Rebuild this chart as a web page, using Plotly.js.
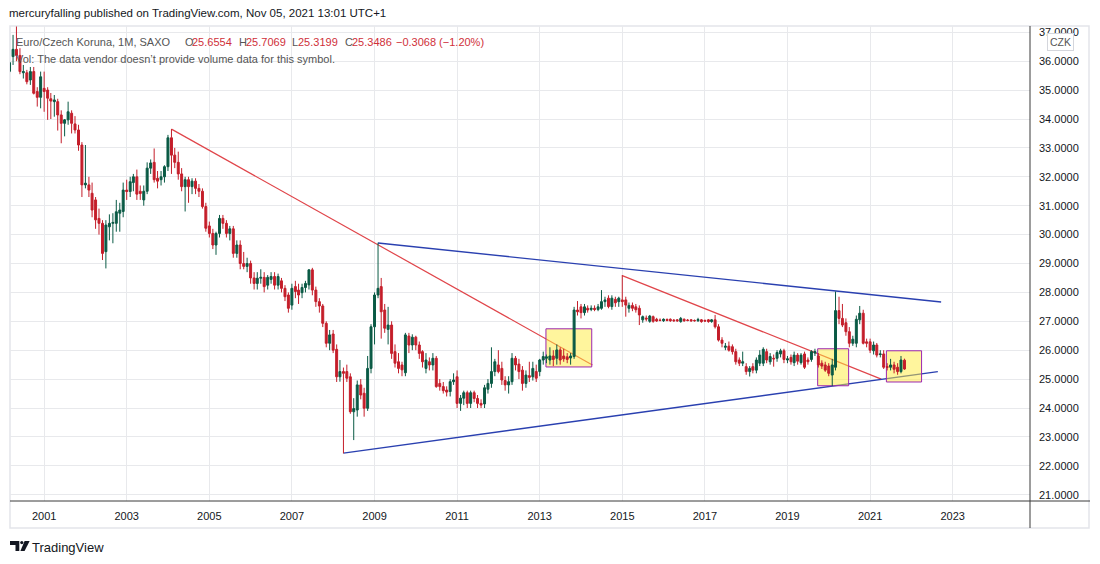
<!DOCTYPE html>
<html><head><meta charset="utf-8">
<script src="https://cdn.plot.ly/plotly-3.0.1.min.js"></script>
<style>html,body{margin:0;padding:0;background:#fff}#chart{width:1100px;height:564px}</style>
</head><body><div id="chart"></div>
<script>
// Monthly EUR/CZK (SAXO), first bar = March 2000
const firstYear = 2000, firstMonth = 3;
const openV = [
 35.65,36.16,36.41,36.2,35.6,35.6,35.35,35.64,34.95,34.75,
 35.06,35.0,34.7,34.6,34.6,34.14,33.85,33.97,34.2,33.83,33.62,33.1,
 31.72,31.72,31.43,31.2,30.56,30.39,29.41,30.27,30.39,30.39,30.74,30.8,
 31.54,31.49,31.8,32.0,31.5,31.2,31.5,32.3,32.5,31.95,31.9,32.0,
 32.35,33.35,32.75,32.5,32.1,31.66,31.9,31.66,31.85,31.6,31.5,30.97,
 30.3,30.04,29.64,30.04,30.56,30.39,30.04,30.2,29.35,29.64,29.0,28.9,
 29.0,28.5,28.31,28.49,28.52,28.25,28.45,28.55,28.25,28.4,28.14,27.91,
 27.56,28.2,28.08,27.99,28.17,28.26,28.78,28.08,27.68,27.53,26.93,26.24,
 26.56,26.03,25.08,25.26,25.26,25.08,23.87,23.93,24.8,24.51,23.99,25.37,
 26.81,27.91,28.2,27.39,26.72,26.87,25.95,25.6,25.49,25.22,26.49,26.18,
 26.45,26.18,25.95,25.37,25.6,25.49,25.72,24.85,24.74,24.62,24.57,24.91,
 25.08,24.16,24.34,24.53,24.16,24.53,24.33,24.16,24.14,24.65,24.85,25.26,
 25.49,25.37,24.95,24.8,24.91,25.72,25.52,25.31,24.85,25.12,25.08,25.26,
 25.26,25.66,25.72,25.66,25.8,25.72,26.01,25.8,25.77,25.73,25.78,27.39,
 27.5,27.3,27.45,27.41,27.45,27.41,27.45,27.68,27.8,27.51,27.76,27.68,
 27.74,27.74,27.45,27.55,27.5,27.45,27.05,27.11,27.0,27.16,27.07,27.04,
 27.02,27.06,27.07,27.04,27.05,26.99,27.07,27.04,27.05,27.03,27.02,27.05,
 27.03,27.05,26.99,27.05,26.81,26.35,26.1,26.14,26.12,25.95,25.66,25.55,
 25.43,25.26,25.43,25.31,25.55,25.55,25.95,25.6,25.72,25.72,25.87,25.98,
 25.66,25.75,25.57,25.83,25.57,25.87,25.66,25.68,25.9,25.8,25.55,25.49,
 25.45,25.14,25.41,27.37,27.1,26.95,26.64,26.24,26.24,27.05,27.28,26.29,
 26.29,25.98,26.18,25.85,25.87,25.43,25.41,25.49,25.41,25.26,25.6554
];
const highV = [
 36.0,36.91,37.2,36.45,35.87,35.7,35.8,35.8,35.1,35.64,
 35.64,35.1,34.9,34.83,34.7,34.3,34.0,34.6,34.3,34.1,33.8,33.2,
 33.1,32.0,31.8,31.3,30.9,30.5,30.5,30.7,30.74,31.2,31.1,31.8,
 31.9,32.0,32.1,32.25,31.7,31.7,32.5,32.6,32.98,32.2,32.2,32.4,
 33.45,33.65,33.0,32.87,32.3,32.0,32.0,31.95,31.95,31.75,31.6,31.1,
 30.45,30.2,30.1,30.68,30.68,30.5,30.3,30.3,29.8,29.8,29.4,29.2,
 29.1,28.7,28.7,28.8,28.7,28.6,28.7,28.7,28.65,28.5,28.25,28.0,
 28.3,28.4,28.3,28.3,28.4,28.8,28.85,28.2,27.8,27.6,27.0,26.7,
 26.7,26.2,25.66,25.4,25.5,25.2,24.34,24.95,25.0,24.7,25.8,26.9,
 28.0,29.72,28.5,27.6,27.5,27.0,26.2,25.9,25.6,26.6,26.6,26.55,
 26.5,26.3,26.0,25.9,25.75,25.9,25.8,25.0,24.9,24.75,25.0,25.2,
 25.3,24.45,24.6,24.6,24.6,24.6,24.45,24.3,24.8,25.0,26.1,25.7,
 26.0,25.6,25.1,25.1,25.9,25.8,25.7,25.45,25.3,25.6,25.6,25.5,
 25.7,25.95,25.85,26.1,26.0,26.2,26.1,26.05,25.9,25.9,27.5,27.7,
 27.6,27.6,27.55,27.55,27.55,27.6,28.08,27.85,27.9,27.9,27.85,27.85,
 28.6,27.85,27.65,27.65,27.6,27.55,27.2,27.2,27.22,27.2,27.12,27.1,
 27.1,27.1,27.1,27.08,27.08,27.15,27.1,27.08,27.08,27.06,27.12,27.08,
 27.06,27.08,27.08,27.22,26.9,26.45,26.25,26.3,26.2,26.05,25.75,25.95,
 25.55,25.45,25.55,25.75,26.0,26.1,26.05,25.9,25.85,26.0,26.05,26.05,
 25.8,25.85,25.95,25.9,25.9,25.95,25.75,26.0,26.05,25.9,25.65,25.6,
 25.55,25.7,28.03,27.85,27.6,27.1,26.8,26.5,27.2,27.53,27.4,26.4,
 26.4,26.3,26.25,26.0,26.0,25.55,25.7,25.6,25.55,25.8,25.7069
];
const lowV = [
 35.6,35.87,36.0,35.55,35.4,35.2,35.18,34.85,34.43,34.37,
 34.25,33.97,34.0,34.08,33.6,33.16,33.4,33.8,33.5,33.5,32.9,31.3,
 31.6,31.3,30.6,30.2,30.0,29.12,28.83,29.8,29.7,30.1,30.1,30.6,
 31.2,31.3,31.5,31.2,31.2,31.0,31.4,32.1,31.8,31.6,31.7,31.8,
 32.2,32.1,32.3,31.9,31.5,30.8,31.1,31.4,31.4,31.3,30.9,30.1,
 29.9,29.5,29.3,29.9,30.2,29.9,29.8,29.2,29.2,28.8,28.8,28.7,
 28.3,28.1,28.1,28.3,28.0,28.1,28.3,28.1,28.1,28.0,27.7,27.3,
 27.4,27.8,27.6,27.8,28.0,28.1,27.9,27.5,27.3,26.8,26.1,26.0,
 25.9,24.9,24.91,22.43,24.9,23.8,22.89,23.7,24.3,23.7,23.9,25.2,
 26.2,27.8,26.4,26.6,26.2,25.7,25.4,25.2,25.1,25.1,25.9,26.0,
 26.0,25.7,25.4,25.2,25.3,25.3,24.7,24.6,24.5,24.4,24.4,24.8,
 24.0,23.9,24.1,24.0,24.0,24.2,24.0,24.0,24.0,24.5,24.7,25.1,
 25.2,24.8,24.6,24.5,24.8,25.3,25.0,24.6,24.7,24.9,24.95,24.9,
 25.1,25.5,25.55,25.5,25.45,25.5,25.5,25.6,25.55,25.5,25.7,27.2,
 27.1,27.2,27.3,27.35,27.35,27.35,27.4,27.5,27.45,27.4,27.5,27.5,
 27.5,27.16,27.3,27.35,27.3,26.87,26.95,27.0,26.95,26.95,26.98,27.0,
 26.98,27.0,26.98,26.98,26.98,26.95,26.98,27.0,26.98,26.99,26.98,26.95,
 26.98,26.95,26.95,26.75,26.3,26.1,26.0,25.95,25.85,25.5,25.45,25.45,
 25.15,25.09,25.2,25.2,25.45,25.45,25.55,25.5,25.43,25.6,25.75,25.55,
 25.55,25.5,25.45,25.5,25.5,25.35,25.5,25.6,25.8,25.4,25.35,25.25,
 25.1,24.76,25.3,26.9,26.8,26.5,26.1,26.15,26.1,26.9,26.2,26.1,
 25.9,25.85,25.75,25.75,25.35,25.3,25.3,25.2,25.15,25.2,25.3199
];
const closeV = [
 35.95,36.41,36.2,35.64,35.64,35.29,35.64,34.89,34.75,35.46,
 34.95,34.72,34.62,34.66,34.14,33.85,33.97,34.25,33.85,33.62,33.1,31.72,
 31.78,31.54,30.85,30.51,30.39,29.35,30.33,30.39,30.42,30.79,30.85,31.54,
 31.49,31.83,32.0,31.4,31.42,31.5,32.3,32.48,31.9,31.85,32.0,32.35,
 33.35,32.75,32.5,32.1,31.66,31.9,31.66,31.85,31.6,31.5,30.97,30.22,
 30.04,29.64,30.04,30.56,30.39,30.04,30.2,29.35,29.64,29.0,28.9,29.0,
 28.5,28.31,28.49,28.52,28.2,28.52,28.55,28.25,28.55,28.14,27.85,27.45,
 28.14,28.03,27.91,28.17,28.31,28.78,28.08,27.68,27.53,26.93,26.24,26.53,
 26.0,25.08,25.26,25.2,25.03,23.87,23.98,24.8,24.45,23.99,25.37,26.81,
 27.91,28.14,27.33,26.76,26.87,25.89,25.55,25.37,25.32,26.53,26.18,26.45,
 26.18,25.89,25.6,25.66,25.49,25.72,24.74,24.74,24.6,24.55,24.91,24.97,
 24.16,24.34,24.53,24.16,24.53,24.33,24.16,24.1,24.7,24.85,25.26,25.6,
 25.26,24.97,24.8,24.91,25.72,25.49,25.26,24.85,25.14,25.06,25.37,25.03,
 25.66,25.78,25.77,25.8,25.68,26.01,25.66,25.7,25.68,25.8,27.39,27.33,
 27.3,27.5,27.39,27.45,27.41,27.5,27.68,27.74,27.51,27.8,27.64,27.8,
 27.68,27.56,27.55,27.45,27.4,27.22,27.16,27.08,27.18,27.0,27.01,27.03,
 27.07,27.03,27.02,27.02,27.02,27.1,27.02,27.03,27.02,27.02,27.06,26.99,
 27.01,26.99,27.05,26.81,26.35,26.24,26.14,26.0,25.95,25.6,25.55,25.6,
 25.26,25.37,25.31,25.66,25.83,26.03,25.66,25.78,25.7,25.92,25.98,25.68,
 25.7,25.6,25.83,25.62,25.83,25.41,25.6,25.95,25.95,25.49,25.45,25.31,
 25.2,25.49,27.37,27.1,26.87,26.64,26.24,26.38,27.07,27.28,26.24,26.24,
 26.0,26.18,25.83,25.87,25.41,25.41,25.49,25.34,25.26,25.66,25.3486
];

// Trend lines: [start, end]
const redLine1Dates = ['2004-02-01','2014-04-12'];   const redLine1Vals = [33.65, 25.49];
const redLine2Dates = ['2015-01-01','2021-04-10'];   const redLine2Vals = [28.58, 25.0];
const blueTopDates  = ['2009-02-01','2022-09-21'];   const blueTopVals  = [29.71, 27.67];
const blueBotDates  = ['2008-04-01','2022-08-23'];   const blueBotVals  = [22.44, 25.26];

// Highlight boxes
const boxX0 = ['2013-02-25','2019-09-25','2021-05-25'];
const boxX1 = ['2014-04-06','2020-06-25','2022-04-01'];
const boxY0 = [25.42, 24.77, 24.90];
const boxY1 = [26.74, 26.05, 25.98];

// Axis ticks
const yearTicks = ['2001','2003','2005','2007','2009','2011','2013','2015','2017','2019','2021','2023'];

// Legend values
const legendName = 'Euro/Czech Koruna, 1M, SAXO';
const ohlcLabels = ['O','H','L','C'];
const ohlcTexts = ['25.6554','25.7069','25.3199','25.3486'];
const changeText = '\u22120.3068 (\u22121.20%)';

const dates = closeV.map((_, i) => {
  const m = (firstMonth - 1) + i;
  const y = firstYear + Math.floor(m / 12);
  const mo = (m % 12) + 1;
  return y + '-' + String(mo).padStart(2, '0') + '-01';
});

const GREEN = '#0a5a45', RED = '#c41e2a';
const FONT = 'Liberation Sans, Arial, sans-serif';

const PX = x => (x - 10) / 1020;
const PY = y => (501 - y) / 475;
const pathPx = pts => 'M' + pts.map(p => PX(p[0]).toFixed(5) + ',' + PY(p[1]).toFixed(5)).join('L') + 'Z';

const traces = [
  {
    type: 'candlestick', x: dates, open: openV, high: highV, low: lowV, close: closeV,
    increasing: {line: {color: GREEN, width: 1}, fillcolor: GREEN},
    decreasing: {line: {color: RED, width: 1}, fillcolor: RED},
    whiskerwidth: 0, hoverinfo: 'skip'
  }
];

const shapes = [];
const trend = (d, v, color, w) => ({type:'line', xref:'x', yref:'y', x0: d[0], x1: d[1], y0: v[0], y1: v[1],
  line:{color: color, width: w}, layer:'between'});
shapes.push(trend(redLine1Dates, redLine1Vals, '#e0454a', 1.2));
shapes.push(trend(redLine2Dates, redLine2Vals, '#e0454a', 1.2));
shapes.push(trend(blueTopDates, blueTopVals, '#2a40b0', 1.4));
shapes.push(trend(blueBotDates, blueBotVals, '#2a40b0', 1.4));
for (let i = 0; i < boxX0.length; i++) {
  shapes.push({type:'rect', xref:'x', yref:'y', x0: boxX0[i], x1: boxX1[i], y0: boxY0[i], y1: boxY1[i],
    fillcolor:'rgba(255,235,59,0.5)', line:{color:'#9c27b0', width:1}, layer:'between'});
}
// panel frame
shapes.push({type:'rect', xref:'paper', yref:'paper', x0: PX(10), x1: PX(1089), y0: PY(528), y1: PY(26),
  line:{color:'#e3e5ea', width:1.5}, fillcolor:'rgba(0,0,0,0)', layer:'below'});
// axis lines
shapes.push({type:'line', xref:'paper', yref:'paper', x0: PX(10), x1: PX(1090), y0: PY(501), y1: PY(501),
  line:{color:'#3a3a3a', width:1}, layer:'above'});
shapes.push({type:'line', xref:'paper', yref:'paper', x0: PX(1030), x1: PX(1030), y0: PY(26), y1: PY(528),
  line:{color:'#3a3a3a', width:1}, layer:'above'});
// TradingView logo
shapes.push({type:'path', xref:'paper', yref:'paper', path: pathPx([[10,541],[19.3,541],[19.3,551],[15.5,551],[15.5,545],[10,545]]),
  fillcolor:'#131722', line:{width:0}});
shapes.push({type:'circle', xref:'paper', yref:'paper', x0: PX(20.2), x1: PX(23.4), y0: PY(544.2), y1: PY(541),
  fillcolor:'#131722', line:{width:0}});
shapes.push({type:'path', xref:'paper', yref:'paper', path: pathPx([[24.6,541],[29.6,541],[24.6,551],[20.4,551]]),
  fillcolor:'#131722', line:{width:0}});

const ann = (x, y, text, size, color, extra) => Object.assign({
  xref:'paper', yref:'paper', x: PX(x), y: PY(y), xanchor:'left', yanchor:'middle',
  text: text, showarrow:false, font:{family: FONT, size: size, color: color}, borderpad: 0
}, extra || {});

const ohlcLabelX = [185, 239, 292, 345];
const ohlcValX = [192, 246, 298, 352];
const annotations = [
  ann(8, 13, 'mercuryfalling published on TradingView.com, Nov 05, 2021 13:01 UTC+1', 11.5, '#131722'),
  ann(15, 42, legendName, 11, '#555555'),
  ann(15, 59, 'Vol: The data vendor doesn\u2019t provide volume data for this symbol.', 11, '#555555'),
  ann(395, 42, changeText, 11, '#d0303a'),
  ann(31, 547, 'TradingView', 13, '#131722'),
  {xref:'paper', yref:'paper', x: PX(1060), y: PY(41.5), xanchor:'center', yanchor:'middle', text:'CZK', showarrow:false,
   font:{family: FONT, size: 10.5, color:'#555555'}, bordercolor:'#d4d6dc', borderwidth:1, borderpad:2, bgcolor:'#ffffff'}
];
for (let i = 0; i < 4; i++) {
  annotations.push(ann(ohlcLabelX[i] - 1, 42, ohlcLabels[i], 11, '#555555'));
  annotations.push(ann(ohlcValX[i] - 1, 42, ohlcTexts[i], 11, '#d0303a'));
}

const layout = {
  width: 1100, height: 564,
  margin: {l: 10, r: 70, t: 26, b: 63, pad: 0},
  paper_bgcolor: '#ffffff', plot_bgcolor: '#ffffff',
  showlegend: false, hovermode: false,
  boxgap: 0.12,
  xaxis: {
    type: 'date', range: ['2000-03-05', '2024-11-15'],
    tickvals: yearTicks.map(y => y + '-01-01'), ticktext: yearTicks,
    showgrid: true, gridcolor: '#e8e9ec', gridwidth: 1,
    showline: false, zeroline: false, ticks: '',
    tickfont: {family: FONT, size: 11, color: '#131722'},
    ticklabelstandoff: 7,
    rangeslider: {visible: false}, fixedrange: true
  },
  yaxis: {
    side: 'right', range: [20.782, 37.218], dtick: 1, tick0: 0, tickformat: '.4f',
    showgrid: true, gridcolor: '#e8e9ec', gridwidth: 1,
    showline: false, zeroline: false, ticks: '',
    tickfont: {family: FONT, size: 11, color: '#131722'},
    ticklabelstandoff: 8, fixedrange: true
  },
  shapes: shapes,
  annotations: annotations
};

Plotly.newPlot('chart', traces, layout, {displayModeBar: false, staticPlot: true});
</script>
</body></html>
